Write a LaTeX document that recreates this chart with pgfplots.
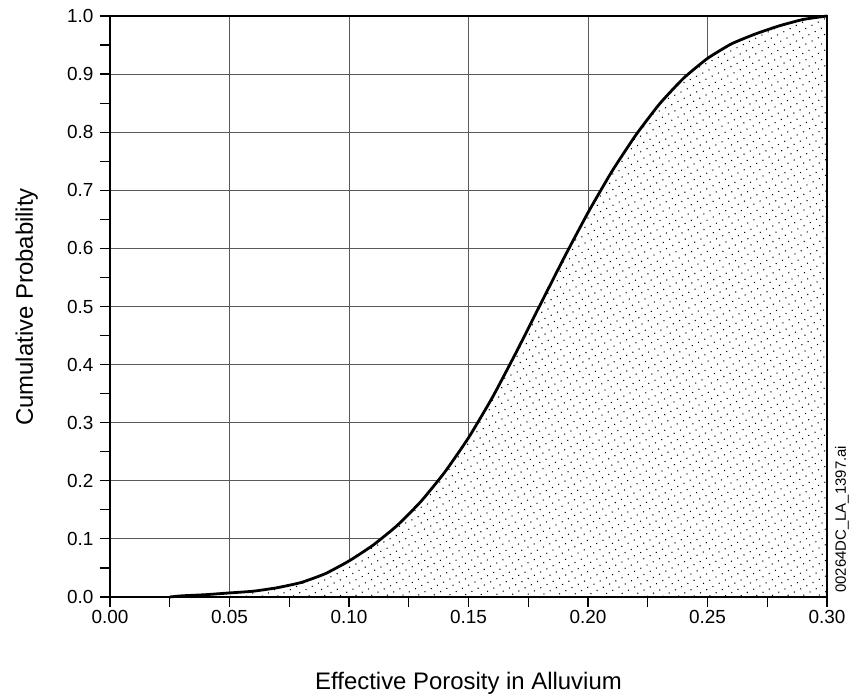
\documentclass[border=0pt]{standalone}
\usepackage{fontspec}
\setmainfont{Liberation Sans}
\usepackage{pgfplots}
\usepackage{pgfplotstable}
\pgfplotsset{compat=1.18}
\usetikzlibrary{patterns.meta}
\pgfplotstableread{
x y
0.025 0
0.030 0.002
0.040 0.004
0.050 0.007
0.060 0.010
0.070 0.016
0.080 0.025
0.090 0.040
0.100 0.062
0.110 0.089
0.120 0.1225
0.130 0.164
0.140 0.2145
0.150 0.274
0.160 0.3435
0.170 0.4215
0.180 0.503
0.190 0.584
0.200 0.6615
0.210 0.7325
0.220 0.795
0.230 0.849
0.240 0.893
0.250 0.927
0.260 0.952
0.270 0.969
0.280 0.983
0.290 0.994
0.300 1.0
}\cdf
\begin{document}
\begin{tikzpicture}
\begin{axis}[
  at={(0,0)}, anchor=south west,
  scale only axis,
  width=717bp, height=581bp,
  xmin=0, xmax=0.3, ymin=0, ymax=1,
  xtick={0,0.05,...,0.301}, ytick={0,0.1,...,1.01},
  minor tick num=1,
  tick align=outside,
  major tick length=10bp, minor tick length=10bp,
  tick style={black, line width=1.2bp},
  xtick pos=bottom, ytick pos=left,
  grid=major,
  major grid style={draw=black!65, line width=1bp},
  axis line style={line width=2.2bp},
  /pgf/number format/assume math mode=true,
  xticklabel style={/pgf/number format/.cd, fixed, fixed zerofill, precision=2, /tikz/.cd, font=\fontsize{19}{19}\selectfont},
  yticklabel style={/pgf/number format/.cd, fixed, fixed zerofill, precision=1, /tikz/.cd, font=\fontsize{19}{19}\selectfont, xshift=-3bp},
  scaled ticks=false,
  clip=false,
]
\addplot[draw=none, fill=white, smooth, tension=0.3] table {\cdf} \closedcycle;
\addplot[draw=none, pattern={Dots[distance=7bp,radius=0.75bp,angle=27]}, pattern color=black, smooth, tension=0.3] table {\cdf} \closedcycle;
\addplot[black, line width=2.8bp, line join=round, smooth, tension=0.3] table {\cdf};
\draw[line width=2.2bp] (rel axis cs:0,0) rectangle (rel axis cs:1,1);
\end{axis}
\node[rotate=90, anchor=base, font=\fontsize{24}{24}\selectfont] at (-77bp,290bp) {Cumulative Probability};
\node[anchor=base, font=\fontsize{24}{24}\selectfont] at (358.5bp,-93bp) {Effective Porosity in Alluvium};
\node[rotate=90, anchor=south west, inner sep=0pt, font=\fontsize{15}{15}\selectfont] at (739bp,4bp) {00264DC\_LA\_1397.ai};
\path (-110bp,-101bp) rectangle (739bp,597bp);
\end{tikzpicture}
\end{document}
